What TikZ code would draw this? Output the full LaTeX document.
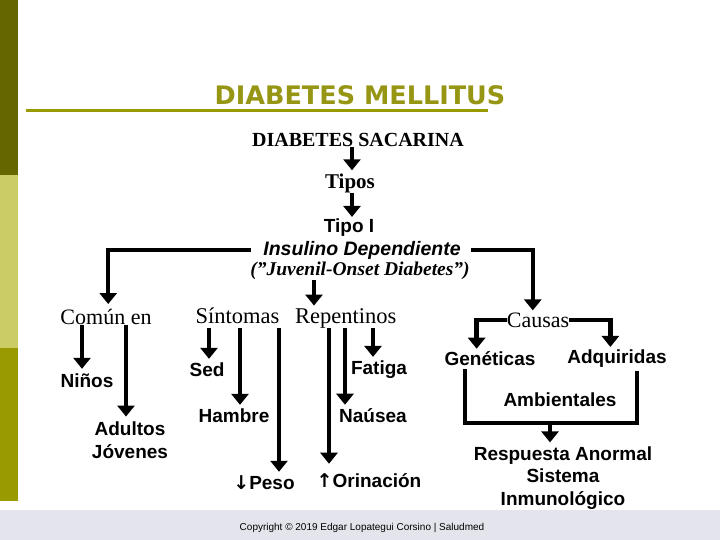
\documentclass[tikz,border=0pt]{standalone}
\usepackage{fontspec}
\setmainfont{Liberation Serif}
\setsansfont{Liberation Sans}
\newfontfamily\titlefont{DejaVu Sans}
\newfontfamily\arrowfont{DejaVu Sans}
\usetikzlibrary{arrows.meta}
\definecolor{olivedark}{RGB}{102,102,0}
\definecolor{olivelight}{RGB}{204,204,102}
\definecolor{olivemid}{RGB}{153,153,0}
\definecolor{titleol}{RGB}{150,150,20}
\definecolor{bandgray}{RGB}{228,228,236}
\begin{document}
\begin{tikzpicture}[x=1pt,y=-1pt,
  conn/.style={line width=4.5pt},
  headtip/.style={-{Triangle[width=17pt,length=11pt]}},
  arr/.style={line width=4pt,headtip,shorten >=2pt},
  serif/.style={inner sep=0pt,font=\fontsize{22}{26}\selectfont},
  sanslbl/.style={inner sep=0pt,align=center,font=\sffamily\bfseries\fontsize{19}{22.5}\selectfont},
]
\useasboundingbox (0,0) rectangle (720,540);
% background decorations
\fill[bandgray] (0,510) rectangle (720,540);
\fill[olivedark] (0,0) rectangle (18,175);
\fill[olivelight] (0,175) rectangle (18,348);
\fill[olivemid] (0,348) rectangle (18,501);
\node[inner sep=0pt,text=titleol,font=\titlefont\bfseries\fontsize{25.5}{30}\selectfont] (title) at (360,95) {DIABETES MELLITUS};
\draw[olivemid,line width=3pt] (26,111) -- (488,111);

% nodes
\node[inner sep=0pt,font=\bfseries\fontsize{20}{24}\selectfont] (sac) at (358,140) {DIABETES SACARINA};
\node[inner sep=0pt,font=\bfseries\fontsize{21}{24}\selectfont] (tipos) at (350,183) {Tipos};
\node[sanslbl] (tipo1) at (349,228) {Tipo I};
\node[sanslbl,font=\sffamily\bfseries\itshape\fontsize{19.5}{22.5}\selectfont] (ins) at (362,250) {Insulino Dependiente};
\node[inner sep=0pt,font=\bfseries\itshape\fontsize{19.5}{22}\selectfont] (juv) at (360,271) {("Juvenil-Onset Diabetes")};
\node[serif] (comun) at (106,317) {Común en};
\node[serif,font=\fontsize{22.5}{26}\selectfont] (sint) at (296,318) {Síntomas\hspace{0.7em}Repentinos};
\node[serif] (causas) at (538,320) {Causas};
\node[sanslbl] (nin) at (87,381) {Niños};
\node[sanslbl] (adu) at (130,440) {Adultos\\Jóvenes};
\node[sanslbl] (sed) at (207,370) {Sed};
\node[sanslbl] (ham) at (234,416) {Hambre};
\node[sanslbl] (peso) at (264,483) {{\arrowfont\bfseries ↓}Peso};
\node[sanslbl] (fat) at (379,370) {Fatiga};
\node[sanslbl] (nau) at (373,416) {Naúsea};
\node[sanslbl] (ori) at (369,481) {{\arrowfont\bfseries ↑}Orinación};
\node[sanslbl] (gen) at (490,359) {Genéticas};
\node[sanslbl] (adq) at (617,359) {Adquiridas};
\node[sanslbl] (amb) at (560,400) {Ambientales};
\node[sanslbl] (resp) at (563,478) {Respuesta Anormal\\Sistema\\Inmunológico};
\node[inner sep=0pt,font=\sffamily\fontsize{10}{12}\selectfont] (copy) at (362,528) {Copyright © 2019 Edgar Lopategui Corsino | Saludmed};

% connectors
\draw[arr,shorten >=3pt] (sac.south -| 352,0) -- (tipos.north -| 352,0);
\draw[arr] (tipos.south -| 352,0) -- (tipo1.north -| 352,0);
\draw[conn,headtip,shorten >=5pt] ([xshift=-12pt]ins.west) -- ++(-143,0) coordinate (lc) -- (comun.north -| lc);
\draw[conn,headtip,shorten >=2pt] ([xshift=10pt]ins.east) -- ++(62,0) coordinate (rc) -- (causas.north -| rc);
\draw[arr] (juv.south -| 314,0) -- (sint.north -| 314,0);
\draw[arr,shorten >=5pt] (comun.south -| 82,0) -- (nin.north -| 82,0);
\draw[arr,shorten >=5pt] (comun.south -| 126,0) -- (adu.north -| 126,0);
\draw[arr,shorten >=4pt] (sint.south -| 209,0) -- (sed.north -| 209,0);
\draw[arr,shorten >=4pt] (sint.south -| 240,0) -- (ham.north -| 240,0);
\draw[arr,shorten >=4pt] (sint.south -| 279,0) -- (peso.north -| 279,0);
\draw[arr,shorten >=10pt] (sint.south -| 329,0) -- (ori.north -| 329,0);
\draw[arr,shorten >=4pt] (sint.south -| 345,0) -- (nau.north -| 345,0);
\draw[arr,shorten >=4pt] (sint.south -| 373,0) -- (fat.north -| 373,0);
\draw[conn,headtip,shorten >=3pt] (causas.west) -- ++(-30,0) coordinate (cl) -- (gen.north -| cl);
\draw[conn,headtip,shorten >=3pt] (causas.east) -- ++(41,0) coordinate (cr) -- (adq.north -| cr);
\coordinate (brk) at (550,423);
\draw[conn] ([yshift=-3pt]gen.south -| 465,0) |- (brk) -| ([yshift=-3pt]adq.south -| 637,0);
\draw[arr,shorten >=4pt] (brk) -- (resp.north -| brk);
\end{tikzpicture}
\end{document}
